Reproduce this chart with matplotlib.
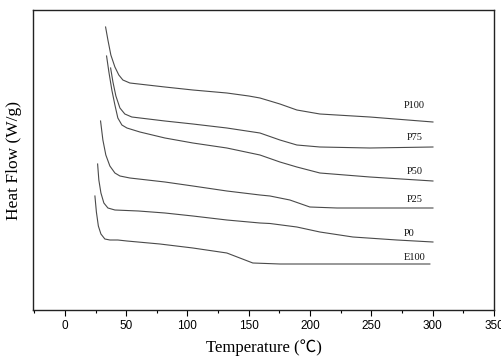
import matplotlib
matplotlib.use("Agg")
import matplotlib.pyplot as plt
from matplotlib.ticker import MultipleLocator

# Temperature (°C) and heat-flow (arbitrary units) values
p100_t = [33.2, 35.1, 37.5, 40.8, 44.0, 47.3, 53.0, 81.6, 104.4, 132.1, 150.0, 159.1, 167.3, 175.4, 189.2, 208.0, 248.8, 300.2]
p100_y = [283, 270, 255, 243, 235, 230, 227, 223, 220, 217, 214, 212, 209, 206, 200, 196, 193, 188]

p75_t = [37.3, 39.2, 41.6, 44.9, 48.9, 54.6, 81.6, 104.4, 132.1, 159.1, 175.4, 189.2, 208.0, 248.8, 300.2]
p75_y = [242, 228, 214, 202, 196, 193, 189, 186, 182, 177, 170, 165, 163, 162, 163]

p50_t = [34.0, 35.9, 38.3, 40.8, 43.2, 46.5, 50.6, 61.2, 81.6, 104.4, 132.1, 159.1, 175.4, 189.2, 208.0, 248.8, 300.2]
p50_y = [254, 238, 220, 205, 192, 185, 182, 178, 172, 167, 162, 155, 148, 143, 137, 133, 129]

p25_t = [29.1, 31.0, 33.4, 36.7, 40.8, 44.9, 53.0, 81.6, 104.4, 132.1, 159.1, 167.3, 183.5, 199.8, 221.9, 300.2]
p25_y = [189, 170, 155, 144, 137, 134, 132, 128, 124, 119, 115, 114, 110, 103, 102, 102]

p0_t = [26.7, 27.7, 29.4, 31.8, 35.1, 40.8, 60.0, 81.6, 104.4, 132.1, 159.1, 167.3, 189.2, 208.0, 234.9, 270.8, 300.2]
p0_y = [146, 130, 117, 107, 102, 100, 99, 97, 94, 90, 87, 86.5, 83, 78, 73, 70, 68]

e100_t = [24.5, 25.7, 27.3, 29.4, 32.6, 36.7, 43.2, 50.6, 77.5, 104.4, 132.1, 142.7, 153.3, 175.4, 297.7]
e100_y = [114, 98, 84, 76, 71, 70, 70, 69, 66, 62, 57, 52, 47, 46, 46]

series = [
    ("P100", p100_t, p100_y, (285, 204)),
    ("P75", p75_t, p75_y, (285, 173)),
    ("P50", p50_t, p50_y, (285, 139)),
    ("P25", p25_t, p25_y, (285, 110)),
    ("P0", p0_t, p0_y, (281, 77)),
    ("E100", e100_t, e100_y, (285, 53)),
]

x_ticks = [0, 50, 100, 150, 200, 250, 300, 350]

fig = plt.figure(figsize=(5.01, 3.57), dpi=100)
ax = fig.add_axes([33 / 501, 1 - 310 / 357, (494 - 33) / 501, 300 / 357])

for name, t, y, (lx, ly) in series:
    ax.plot(t, y, color="#4a4a4a", lw=0.8)
    ax.text(lx, ly, name, fontsize=7.5, family="Liberation Serif",
            ha="center", va="center", color="#111111")

ax.set_xlim(-26, 350)
ax.set_ylim(0, 300)
ax.set_xticks(x_ticks)
ax.xaxis.set_minor_locator(MultipleLocator(25))
ax.set_yticks([])
ax.tick_params(axis="x", which="major", direction="out", length=4, width=0.8, pad=3.5)
ax.tick_params(axis="x", which="minor", direction="out", length=2.5, width=0.8)
for lab in ax.get_xticklabels():
    lab.set_family("Liberation Sans")
    lab.set_fontsize(8.5)
for s in ax.spines.values():
    s.set_linewidth(1.0)
    s.set_color("#222222")

ax.set_xlabel("Temperature (\u2103)", fontsize=12,
              family=["Liberation Serif", "Noto Sans CJK SC"], labelpad=5)
ax.set_ylabel("Heat Flow (W/g)", fontsize=12.5, family="Liberation Serif", labelpad=8)

fig.savefig("out.png", dpi=100)
